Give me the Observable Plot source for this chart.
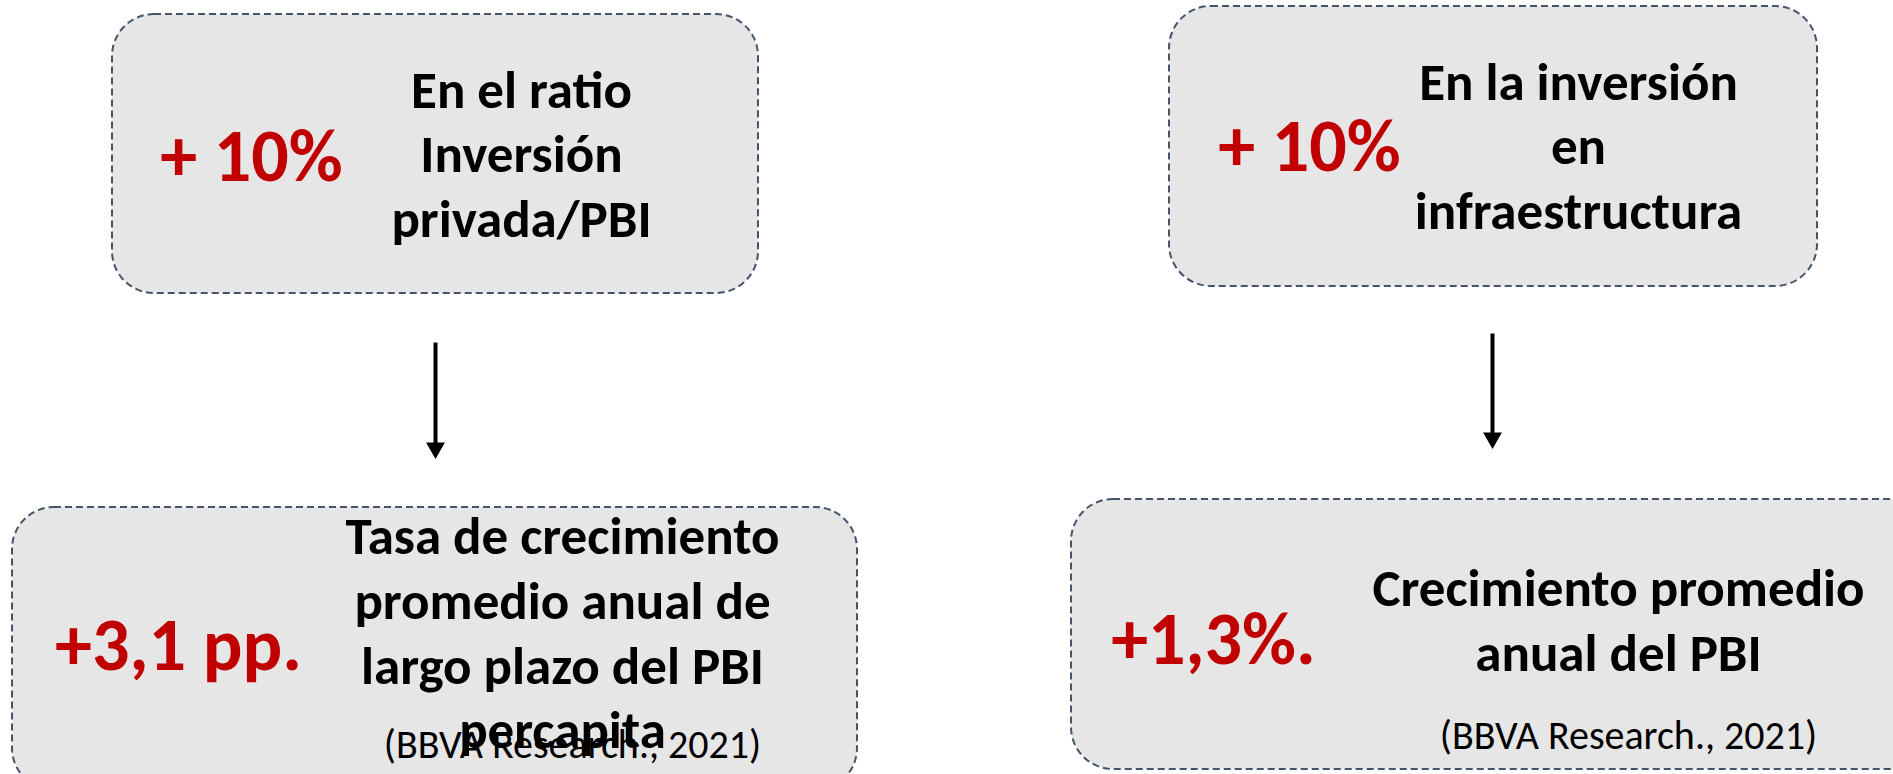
<!DOCTYPE html>
<html>
<head>
<meta charset="utf-8">
<script src="https://cdn.jsdelivr.net/npm/d3@7"></script>
<script src="https://cdn.jsdelivr.net/npm/@observablehq/plot@0.6"></script>
<style>
  html, body { margin: 0; padding: 0; background: #fff; overflow: hidden; }
</style>
</head>
<body>
<div id="chart"></div>
<script>
// ---- content (text values) ----
const boxValues = ["+ 10%", "+ 10%", "+3,1 pp.", "+1,3%."];
const boxLabels = [
  "En el ratio\nInversión\nprivada/PBI",
  "En la inversión\nen\ninfraestructura",
  "Tasa de crecimiento\npromedio anual de\nlargo plazo del PBI\npercapita",
  "Crecimiento promedio\nanual del PBI"
];
const sourceLabels = ["(BBVA Research., 2021)", "(BBVA Research., 2021)"];

// ---- layout (pixel positions of the diagram) ----
const boxX1 = [112, 1169, 12, 1071];
const boxX2 = [758, 1817, 857, 1935];
const boxY1 = [14, 6, 507, 499];
const boxY2 = [293, 286, 790, 769];
const valueX = [251, 1309, 178, 1213];
const valueY = [157, 147, 646, 640];
const labelX = [521, 1578, 562, 1618];
const labelY = [151, 143, 630, 617];
const sourceX = [572, 1628];
const sourceY = [745, 736];
const arrowX = [435, 1492];
const arrowTop = [342, 333];
const arrowTip = [458, 448];

const boxes = boxValues.map((v, i) => ({
  value: v, label: boxLabels[i],
  x1: boxX1[i], x2: boxX2[i], y1: boxY1[i], y2: boxY2[i],
  vx: valueX[i], vy: valueY[i], lx: labelX[i], ly: labelY[i]
}));
const sources = sourceLabels.map((s, i) => ({ text: s, x: sourceX[i], y: sourceY[i] }));
const arrows = arrowX.map((x, i) => ({ x, y1: arrowTop[i], y2: arrowTip[i] - 8, tip: arrowTip[i] - 10.5 }));

const font = "Carlito, Calibri, Lato, sans-serif";

const chart = Plot.plot({
  width: 1893,
  height: 774,
  margin: 0,
  x: { domain: [0, 1893], range: [0, 1893], axis: null },
  y: { domain: [0, 774], range: [0, 774], axis: null },
  style: { background: "#ffffff", overflow: "hidden" },
  marks: [
    Plot.rect(boxes, {
      x1: "x1", x2: "x2", y1: "y1", y2: "y2",
      rx: 42,
      fill: "#E7E6E6",
      stroke: "#44546A",
      strokeWidth: 2,
      strokeDasharray: "7,4"
    }),
    Plot.text(boxes, {
      x: "vx", y: "vy", text: "value",
      fill: "#C00000",
      fontSize: 74, fontWeight: "bold", fontFamily: font,
      textAnchor: "middle", lineAnchor: "middle"
    }),
    Plot.text(boxes, {
      x: "lx", y: "ly", text: "label",
      fill: "#000000",
      fontSize: 53, fontWeight: "bold", fontFamily: font,
      lineHeight: 1.22,
      textAnchor: "middle", lineAnchor: "middle"
    }),
    Plot.text(sources, {
      x: "x", y: "y", text: "text",
      fill: "#000000",
      fontSize: 40, fontFamily: font,
      textAnchor: "middle", lineAnchor: "middle"
    }),
    Plot.link(arrows, {
      x1: "x", x2: "x", y1: "y1", y2: "y2",
      stroke: "#000000", strokeWidth: 4
    }),
    Plot.dot(arrows, {
      x: "x", y: "tip",
      symbol: "triangle", rotate: 180, r: 7,
      fill: "#000000", stroke: null
    })
  ]
});
document.getElementById("chart").appendChild(chart);
</script>
</body>
</html>
